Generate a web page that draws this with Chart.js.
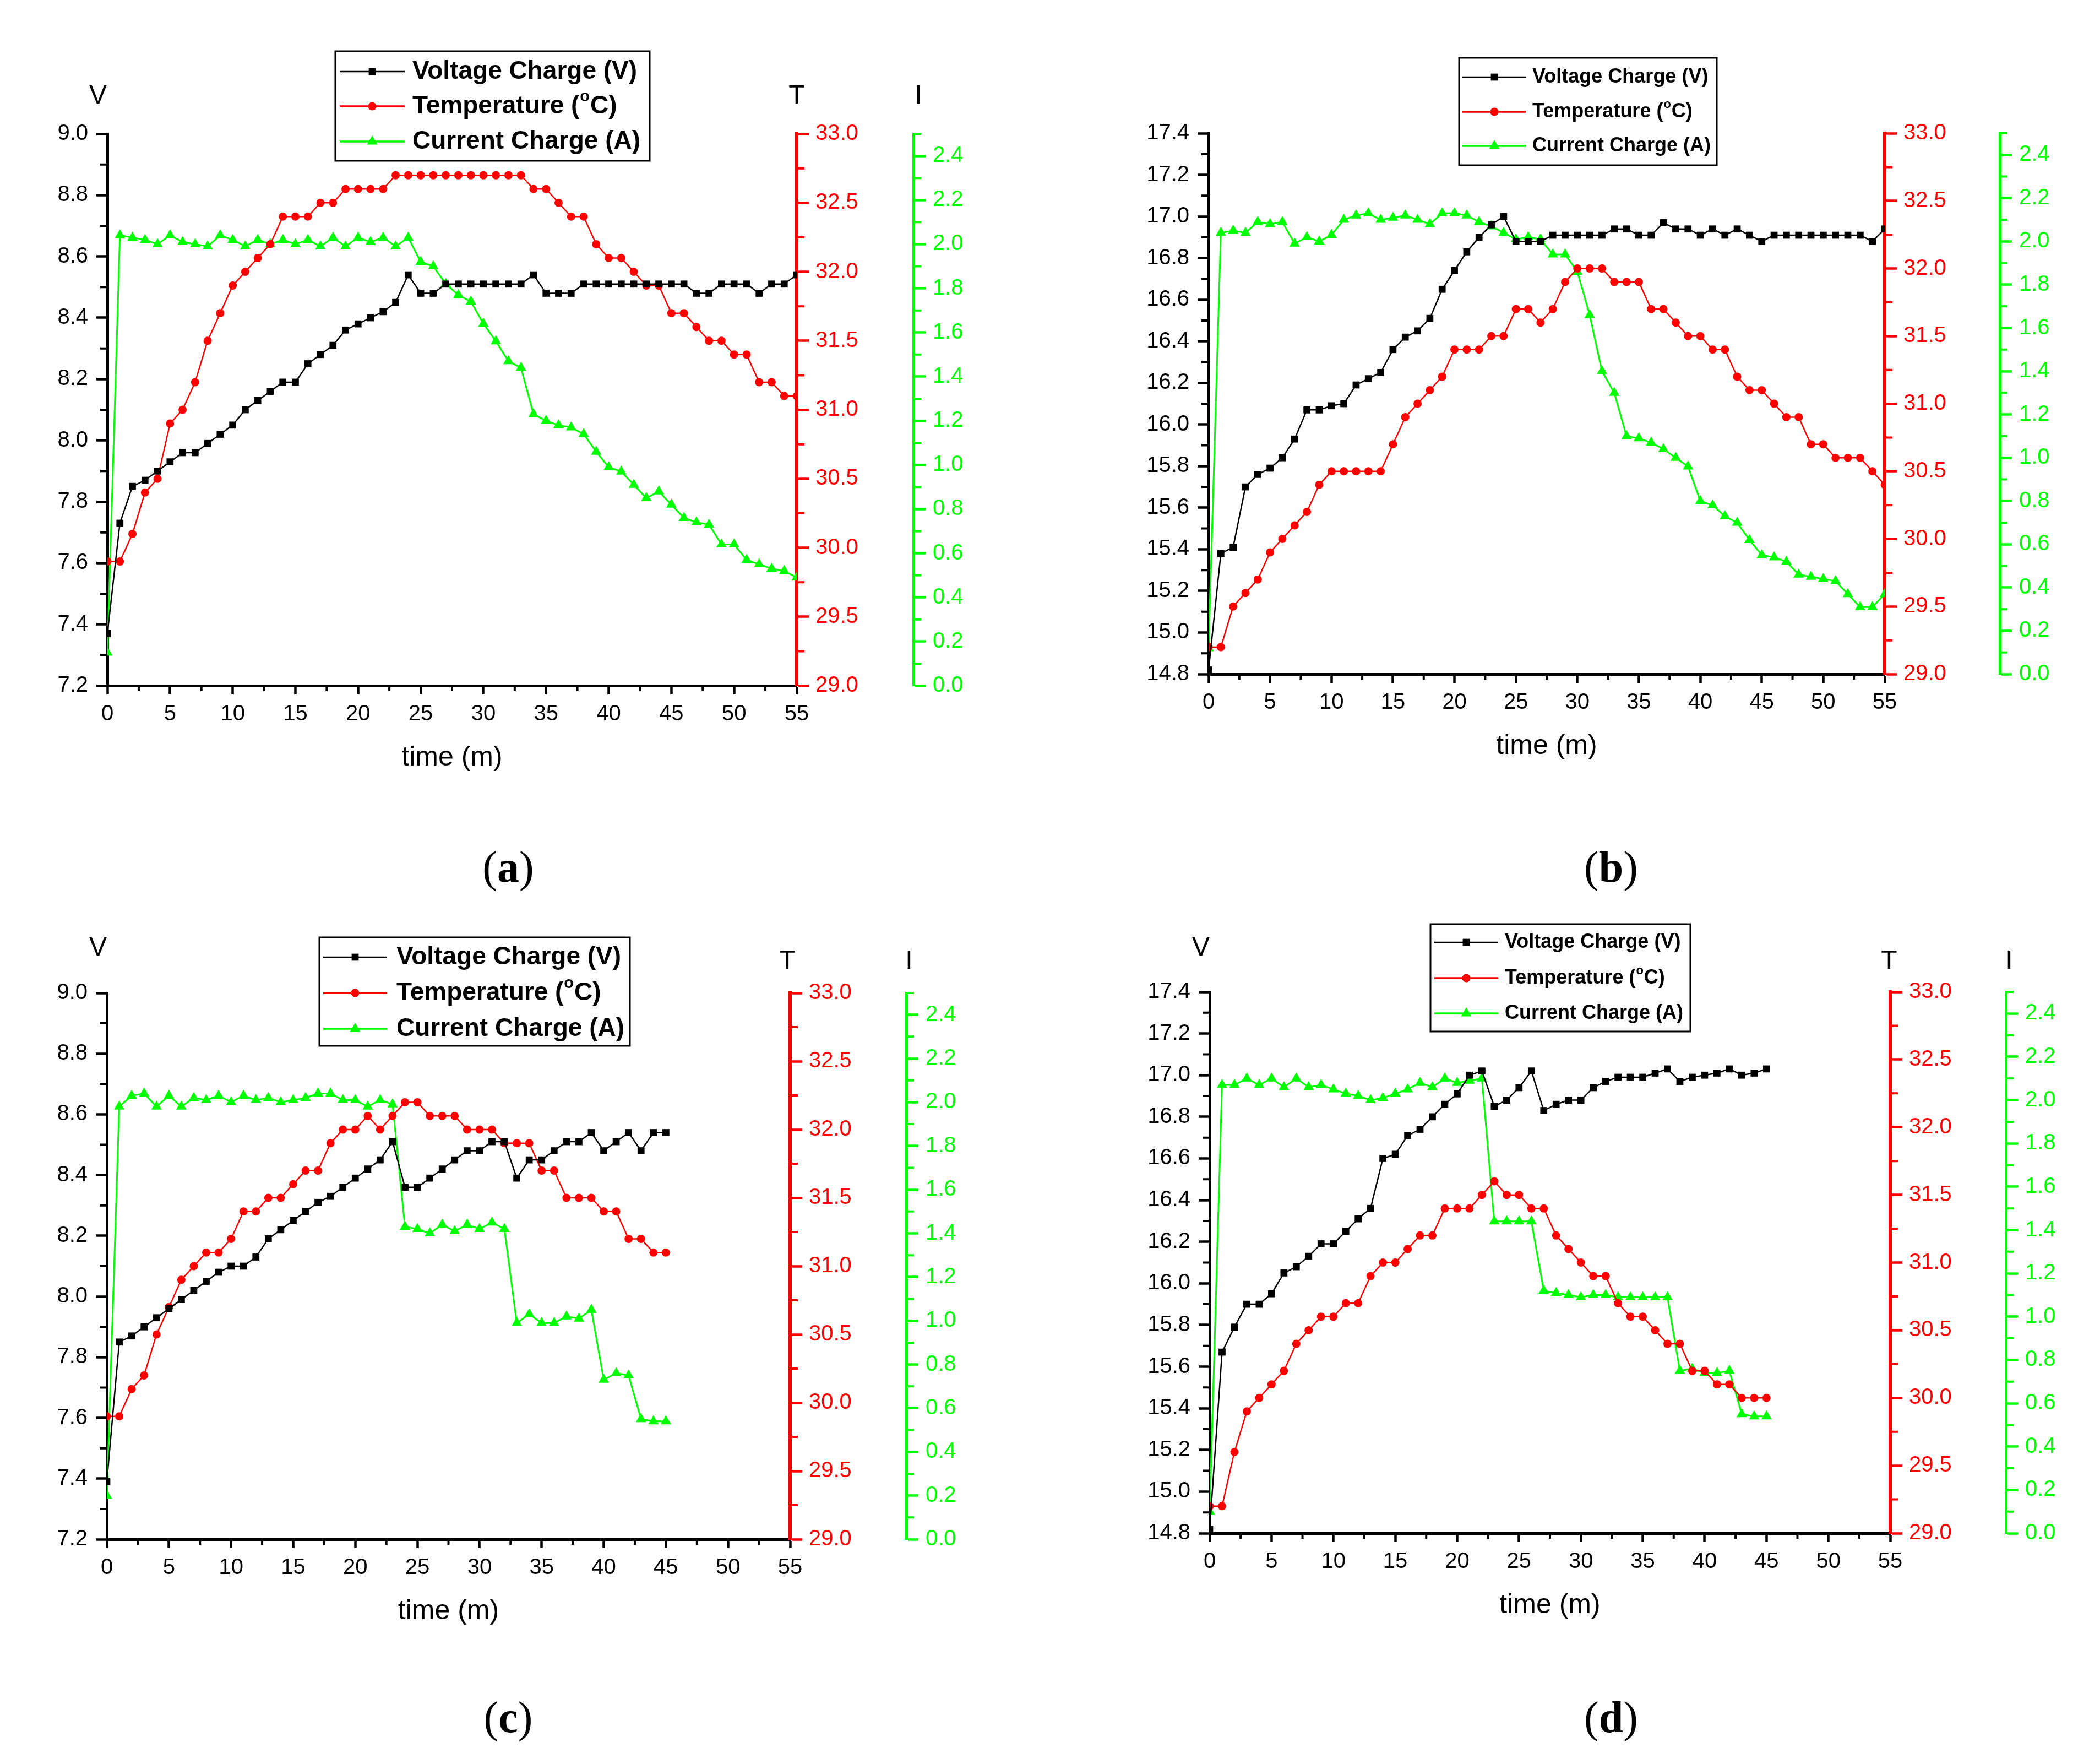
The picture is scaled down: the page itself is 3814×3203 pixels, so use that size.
<!DOCTYPE html>
<html>
<head>
<meta charset="utf-8">
<title>Laddning: spänning, temperatur och ström</title>
<script src="https://cdn.jsdelivr.net/npm/chart.js@4.4.1/dist/chart.umd.min.js"></script>
<style>
  body { margin: 0; background: #fff; }
  #page { position: relative; width: 3814px; height: 3203px; background: #fff; overflow: hidden; }
  #page canvas { position: absolute; }
  .panel { position: absolute; font-family: "Liberation Serif", "DejaVu Serif", serif; font-size: 80px; color: #000; transform: translate(-50%, -50%); white-space: nowrap; }
</style>
</head>
<body>
<div id="page">
  <canvas id="chartA" width="1907" height="1601" style="left:0px;top:0px"></canvas>
  <canvas id="chartB" width="1907" height="1601" style="left:1907px;top:0px"></canvas>
  <canvas id="chartC" width="1907" height="1601" style="left:0px;top:1601px"></canvas>
  <canvas id="chartD" width="1907" height="1601" style="left:1907px;top:1601px"></canvas>
  <div class="panel" style="left:923px;top:1574px">(<b>a</b>)</div>
  <div class="panel" style="left:2926px;top:1574px">(<b>b</b>)</div>
  <div class="panel" style="left:923px;top:3118px">(<b>c</b>)</div>
  <div class="panel" style="left:2926px;top:3118px">(<b>d</b>)</div>
</div>
<script>
"use strict";

//Tid i minuter
const timeLong = [0,1,2,3,4,5,6,7,8,9,10,11,12,13,14,15,16,17,18,19,20,21,22,23,24,25,26,27,28,29,30,31,32,33,34,35,36,37,38,39,40,41,42,43,44,45,46,47,48,49,50,51,52,53,54,55];
const timeShort = [0,1,2,3,4,5,6,7,8,9,10,11,12,13,14,15,16,17,18,19,20,21,22,23,24,25,26,27,28,29,30,31,32,33,34,35,36,37,38,39,40,41,42,43,44,45];

//Serienamn
const seriesNames = ['Voltage Charge (V)', 'Temperature (\u00B0C)', 'Current Charge (A)'];

//Axelintervall
const timeRange = [0, 55];
const voltRangeLow = [7.2, 9.0];
const voltRangeHigh = [14.8, 17.4];
const tempRange = [29, 33];
const currRange = [0, 2.5];

//Panel (a)
const voltA = [7.37,7.73,7.85,7.87,7.90,7.93,7.96,7.96,7.99,8.02,
  8.05,8.10,8.13,8.16,8.19,8.19,8.25,8.28,8.31,8.36,
  8.38,8.40,8.42,8.45,8.54,8.48,8.48,8.51,8.51,8.51,
  8.51,8.51,8.51,8.51,8.54,8.48,8.48,8.48,8.51,8.51,
  8.51,8.51,8.51,8.51,8.51,8.51,8.51,8.48,8.48,8.51,
  8.51,8.51,8.48,8.51,8.51,8.54];
const tempA = [29.9,29.9,30.1,30.4,30.5,30.9,31.0,31.2,31.5,31.7,
  31.9,32.0,32.1,32.2,32.4,32.4,32.4,32.5,32.5,32.6,
  32.6,32.6,32.6,32.7,32.7,32.7,32.7,32.7,32.7,32.7,
  32.7,32.7,32.7,32.7,32.6,32.6,32.5,32.4,32.4,32.2,
  32.1,32.1,32.0,31.9,31.9,31.7,31.7,31.6,31.5,31.5,
  31.4,31.4,31.2,31.2,31.1,31.1];
const currA = [0.15,2.04,2.03,2.02,2.00,2.04,2.01,2.00,1.99,2.04,
  2.02,1.99,2.02,2.00,2.02,2.00,2.02,1.99,2.03,1.99,
  2.03,2.01,2.03,1.99,2.03,1.92,1.90,1.82,1.77,1.74,
  1.64,1.56,1.47,1.44,1.23,1.20,1.18,1.17,1.14,1.06,
  0.99,0.97,0.91,0.85,0.88,0.82,0.76,0.74,0.73,0.64,
  0.64,0.57,0.55,0.53,0.52,0.49];

//Panel (b)
const voltB = [14.82,15.38,15.41,15.70,15.76,15.79,15.84,15.93,16.07,16.07,
  16.09,16.10,16.19,16.22,16.25,16.36,16.42,16.45,16.51,16.65,
  16.74,16.83,16.90,16.96,17.00,16.88,16.88,16.88,16.91,16.91,
  16.91,16.91,16.91,16.94,16.94,16.91,16.91,16.97,16.94,16.94,
  16.91,16.94,16.91,16.94,16.91,16.88,16.91,16.91,16.91,16.91,
  16.91,16.91,16.91,16.91,16.88,16.94];
const tempB = [29.2,29.2,29.5,29.6,29.7,29.9,30.0,30.1,30.2,30.4,
  30.5,30.5,30.5,30.5,30.5,30.7,30.9,31.0,31.1,31.2,
  31.4,31.4,31.4,31.5,31.5,31.7,31.7,31.6,31.7,31.9,
  32.0,32.0,32.0,31.9,31.9,31.9,31.7,31.7,31.6,31.5,
  31.5,31.4,31.4,31.2,31.1,31.1,31.0,30.9,30.9,30.7,
  30.7,30.6,30.6,30.6,30.5,30.4];
const currB = [0.12,2.04,2.05,2.04,2.09,2.08,2.09,1.99,2.02,2.00,
  2.03,2.10,2.12,2.13,2.10,2.11,2.12,2.10,2.08,2.13,
  2.13,2.12,2.09,2.07,2.04,2.01,2.02,2.01,1.94,1.94,
  1.86,1.66,1.40,1.30,1.10,1.09,1.07,1.04,1.00,0.96,
  0.80,0.78,0.73,0.70,0.62,0.55,0.54,0.52,0.46,0.45,
  0.44,0.43,0.37,0.31,0.31,0.37];

//Panel (c)
const voltC = [7.39,7.85,7.87,7.90,7.93,7.96,7.99,8.02,8.05,8.08,
  8.10,8.10,8.13,8.19,8.22,8.25,8.28,8.31,8.33,8.36,
  8.39,8.42,8.45,8.51,8.36,8.36,8.39,8.42,8.45,8.48,
  8.48,8.51,8.51,8.39,8.45,8.45,8.48,8.51,8.51,8.54,
  8.48,8.51,8.54,8.48,8.54,8.54];
const tempC = [29.9,29.9,30.1,30.2,30.5,30.7,30.9,31.0,31.1,31.1,
  31.2,31.4,31.4,31.5,31.5,31.6,31.7,31.7,31.9,32.0,
  32.0,32.1,32.0,32.1,32.2,32.2,32.1,32.1,32.1,32.0,
  32.0,32.0,31.9,31.9,31.9,31.7,31.7,31.5,31.5,31.5,
  31.4,31.4,31.2,31.2,31.1,31.1];
const currC = [0.20,1.98,2.03,2.04,1.98,2.03,1.98,2.02,2.01,2.03,
  2.00,2.03,2.01,2.02,2.00,2.01,2.02,2.04,2.04,2.01,
  2.01,1.98,2.01,1.99,1.43,1.42,1.40,1.44,1.41,1.44,
  1.42,1.45,1.42,0.99,1.03,0.99,0.99,1.02,1.01,1.05,
  0.73,0.76,0.75,0.55,0.54,0.54];

//Panel (d)
const voltD = [14.82,15.67,15.79,15.90,15.90,15.95,16.05,16.08,16.13,16.19,
  16.19,16.25,16.31,16.36,16.60,16.62,16.71,16.74,16.80,16.86,
  16.91,17.00,17.02,16.85,16.88,16.94,17.02,16.83,16.86,16.88,
  16.88,16.94,16.97,16.99,16.99,16.99,17.01,17.03,16.97,16.99,
  17.00,17.01,17.03,17.00,17.01,17.03];
const tempD = [29.2,29.2,29.6,29.9,30.0,30.1,30.2,30.4,30.5,30.6,
  30.6,30.7,30.7,30.9,31.0,31.0,31.1,31.2,31.2,31.4,
  31.4,31.4,31.5,31.6,31.5,31.5,31.4,31.4,31.2,31.1,
  31.0,30.9,30.9,30.7,30.6,30.6,30.5,30.4,30.4,30.2,
  30.2,30.1,30.1,30.0,30.0,30.0];
const currD = [0.10,2.07,2.07,2.10,2.07,2.10,2.06,2.10,2.06,2.07,
  2.05,2.03,2.02,2.00,2.01,2.03,2.05,2.08,2.06,2.10,
  2.08,2.09,2.10,1.44,1.44,1.44,1.44,1.12,1.11,1.10,
  1.09,1.10,1.10,1.09,1.09,1.09,1.09,1.09,0.75,0.76,
  0.74,0.74,0.75,0.55,0.54,0.54];

//Färger
const black = '#000000';
const red = '#ff0000';
const green = '#00ff00';

//Canvasstorlek och fasta axelbredder
const CW = 1907;
const CH = 1601;
const leftW = 160;
const greenW = 120;
const xAxisH = 180;

//Placering av varje panel (i canvasens koordinater)
const geoA = {
  L: 195, T: 243, R: 1447, B: 1245, G: 1659,
  legend: { x: 609, y: 93, w: 571, h: 199, font: 46, rows: [37, 100, 164], line: [8, 126], mark: 67, text: 140 },
  letters: [{ t: 'V', x: 178, y: 175 }, { t: 'T', x: 1447, y: 175 }, { t: 'I', x: 1668, y: 175 }]
};
const geoB = {
  L: 288, T: 242, R: 1516, B: 1224, G: 1725,
  legend: { x: 743, y: 105, w: 468, h: 195, font: 36, rows: [35, 98, 160], line: [6, 122], mark: 64, text: 133 },
  letters: []
};
const geoC = {
  L: 194, T: 202, R: 1435, B: 1194, G: 1646,
  legend: { x: 580, y: 101, w: 564, h: 197, font: 46, rows: [36, 101, 166], line: [7, 123], mark: 65, text: 140 },
  letters: [{ t: 'V', x: 178, y: 121 }, { t: 'T', x: 1430, y: 145 }, { t: 'I', x: 1651, y: 145 }]
};
const geoD = {
  L: 290, T: 200, R: 1526, B: 1183, G: 1736,
  legend: { x: 691, y: 77, w: 472, h: 195, font: 36, rows: [33, 98, 162], line: [7, 123], mark: 65, text: 135 },
  letters: [{ t: 'V', x: 274, y: 121 }, { t: 'T', x: 1524, y: 145 }, { t: 'I', x: 1742, y: 145 }]
};

Chart.defaults.font.family = "'Liberation Sans', Arial, sans-serif";
Chart.defaults.color = black;

/**
 * Ritar en markör (fyrkant, cirkel eller triangel)
 */
function drawMarker(ctx, style, x, y, r, color) {
  ctx.fillStyle = color;
  ctx.beginPath();
  if (style === 'rect') {
    const s = r * Math.SQRT1_2;
    ctx.rect(x - s, y - s, 2 * s, 2 * s);
  } else if (style === 'triangle') {
    ctx.moveTo(x, y - r);
    ctx.lineTo(x + r * Math.sin(2 * Math.PI / 3), y - r * Math.cos(2 * Math.PI / 3));
    ctx.lineTo(x + r * Math.sin(4 * Math.PI / 3), y - r * Math.cos(4 * Math.PI / 3));
    ctx.closePath();
  } else {
    ctx.arc(x, y, r, 0, Math.PI * 2);
  }
  ctx.fill();
}

//Plugin för småstreck, axelbokstäver och förklaringsruta
const extraPlugin = {
  id: 'extra',
  afterDraw(chart, args, opts) {
    const ctx = chart.ctx;
    const area = chart.chartArea;
    ctx.save();

    //Småstreck mellan de stora strecken
    opts.minor.forEach(m => {
      const sc = chart.scales[m.id];
      const n = Math.round((sc.max - sc.min) / m.step);
      ctx.strokeStyle = m.color;
      ctx.lineWidth = 4;
      ctx.beginPath();
      for (let k = 1; k <= n; k += 2) {
        const p = sc.getPixelForValue(sc.min + k * m.step);
        if (m.side === 'left') {
          ctx.moveTo(area.left, p);
          ctx.lineTo(area.left - m.len, p);
        } else if (m.side === 'right') {
          ctx.moveTo(sc.left, p);
          ctx.lineTo(sc.left + m.len, p);
        } else {
          ctx.moveTo(p, area.bottom);
          ctx.lineTo(p, area.bottom + m.len);
        }
      }
      ctx.stroke();
    });

    //Bokstäver ovanför axlarna
    ctx.fillStyle = black;
    ctx.font = "48px 'Liberation Sans', Arial, sans-serif";
    ctx.textAlign = 'center';
    ctx.textBaseline = 'middle';
    opts.letters.forEach(l => ctx.fillText(l.t, l.x, l.y));

    //Förklaringsruta
    const lg = opts.legend;
    ctx.fillStyle = '#ffffff';
    ctx.fillRect(lg.x, lg.y, lg.w, lg.h);
    ctx.strokeStyle = black;
    ctx.lineWidth = 3;
    ctx.strokeRect(lg.x, lg.y, lg.w, lg.h);

    chart.data.datasets.forEach((ds, i) => {
      const y = lg.y + lg.rows[i];
      ctx.strokeStyle = ds.borderColor;
      ctx.lineWidth = i === 0 ? 2.5 : 3.5;
      ctx.beginPath();
      ctx.moveTo(lg.x + lg.line[0], y);
      ctx.lineTo(lg.x + lg.line[1], y);
      ctx.stroke();
      drawMarker(ctx, ds.pointStyle, lg.x + lg.mark, y, ds.pointRadius, ds.borderColor);

      //Text, med upphöjt o för grader
      const fontBig = 'bold ' + lg.font + "px 'Liberation Sans', Arial, sans-serif";
      const fontSmall = 'bold ' + Math.round(lg.font * 0.62) + "px 'Liberation Sans', Arial, sans-serif";
      ctx.fillStyle = black;
      ctx.textAlign = 'left';
      ctx.textBaseline = 'middle';
      let x = lg.x + lg.text;
      const parts = ds.label.split('\u00B0');
      ctx.font = fontBig;
      ctx.fillText(parts[0], x, y);
      if (parts.length > 1) {
        x += ctx.measureText(parts[0]).width;
        ctx.font = fontSmall;
        ctx.fillText('o', x + 1, y - lg.font * 0.36);
        x += ctx.measureText('o').width + 2;
        ctx.font = fontBig;
        ctx.fillText(parts[1], x, y);
      }
    });
    ctx.restore();
  }
};

/**
 * Skapar de tre dataserierna
 */
function makeDatasets(volt, temp, curr) {
  return [
    {
      label: seriesNames[0], data: volt, yAxisID: 'yV',
      borderColor: black, backgroundColor: black, borderWidth: 2.5,
      pointStyle: 'rect', pointRadius: 9, pointBorderWidth: 0, tension: 0
    },
    {
      label: seriesNames[1], data: temp, yAxisID: 'yT',
      borderColor: red, backgroundColor: red, borderWidth: 2.5,
      pointStyle: 'circle', pointRadius: 7.5, pointBorderWidth: 0, tension: 0
    },
    {
      label: seriesNames[2], data: curr, yAxisID: 'yI',
      borderColor: green, backgroundColor: green, borderWidth: 3,
      pointStyle: 'triangle', pointRadius: 11, pointBorderWidth: 0, tension: 0
    }
  ];
}

/**
 * Ritar en panel med tre y-axlar
 */
function drawPanel(id, times, volt, temp, curr, voltRange, geo) {
  const ctx = document.getElementById(id);
  const tickFont = { size: 40 };

  new Chart(ctx, {
    type: 'line',
    data: {
      labels: times,
      datasets: makeDatasets(volt, temp, curr)
    },
    options: {
      responsive: false,
      animation: false,
      devicePixelRatio: 1,
      layout: {
        padding: {
          left: geo.L - leftW,
          top: geo.T,
          right: CW - geo.G - greenW,
          bottom: CH - geo.B - xAxisH
        }
      },
      scales: {
        x: {
          type: 'linear', position: 'bottom',
          min: timeRange[0], max: timeRange[1],
          afterFit: s => { s.height = xAxisH; },
          ticks: { stepSize: 5, autoSkip: false, maxRotation: 0, padding: 12, font: tickFont, color: black },
          grid: { drawOnChartArea: false, tickLength: 16, tickWidth: 4.5, tickColor: black },
          border: { display: true, color: black, width: 5 },
          title: { display: true, text: 'time (m)', font: { size: 50 }, color: black, padding: { top: 0, bottom: 19 } }
        },
        yV: {
          type: 'linear', position: 'left',
          min: voltRange[0], max: voltRange[1],
          afterFit: s => { s.width = leftW; },
          ticks: { stepSize: 0.2, autoSkip: false, padding: 15, font: tickFont, color: black, callback: v => Number(v).toFixed(1) },
          grid: { drawOnChartArea: false, tickLength: 20, tickWidth: 4.5, tickColor: black },
          border: { display: true, color: black, width: 5 }
        },
        yT: {
          type: 'linear', position: 'right', weight: 0,
          min: tempRange[0], max: tempRange[1],
          afterFit: s => { s.width = geo.G - geo.R; },
          ticks: { stepSize: 0.5, autoSkip: false, padding: 12, font: tickFont, color: red, callback: v => Number(v).toFixed(1) },
          grid: { drawOnChartArea: false, tickLength: 22, tickWidth: 4.5, tickColor: red },
          border: { display: true, color: red, width: 6 }
        },
        yI: {
          type: 'linear', position: 'right', weight: 1,
          min: currRange[0], max: currRange[1],
          afterFit: s => { s.width = greenW; },
          ticks: { stepSize: 0.2, includeBounds: false, autoSkip: false, padding: 13, font: tickFont, color: green, callback: v => Number(v).toFixed(1) },
          grid: { drawOnChartArea: false, tickLength: 22, tickWidth: 4.5, tickColor: green },
          border: { display: true, color: green, width: 5 }
        }
      },
      plugins: {
        legend: { display: false },
        tooltip: { enabled: false },
        extra: {
          minor: [
            { id: 'x', step: 2.5, len: 10, side: 'bottom', color: black },
            { id: 'yV', step: 0.1, len: 13, side: 'left', color: black },
            { id: 'yT', step: 0.25, len: 14, side: 'right', color: red },
            { id: 'yI', step: 0.1, len: 14, side: 'right', color: green }
          ],
          letters: geo.letters,
          legend: geo.legend
        }
      }
    },
    plugins: [extraPlugin]
  });
}

drawPanel('chartA', timeLong, voltA, tempA, currA, voltRangeLow, geoA);
drawPanel('chartB', timeLong, voltB, tempB, currB, voltRangeHigh, geoB);
drawPanel('chartC', timeShort, voltC, tempC, currC, voltRangeLow, geoC);
drawPanel('chartD', timeShort, voltD, tempD, currD, voltRangeHigh, geoD);
</script>
</body>
</html>
